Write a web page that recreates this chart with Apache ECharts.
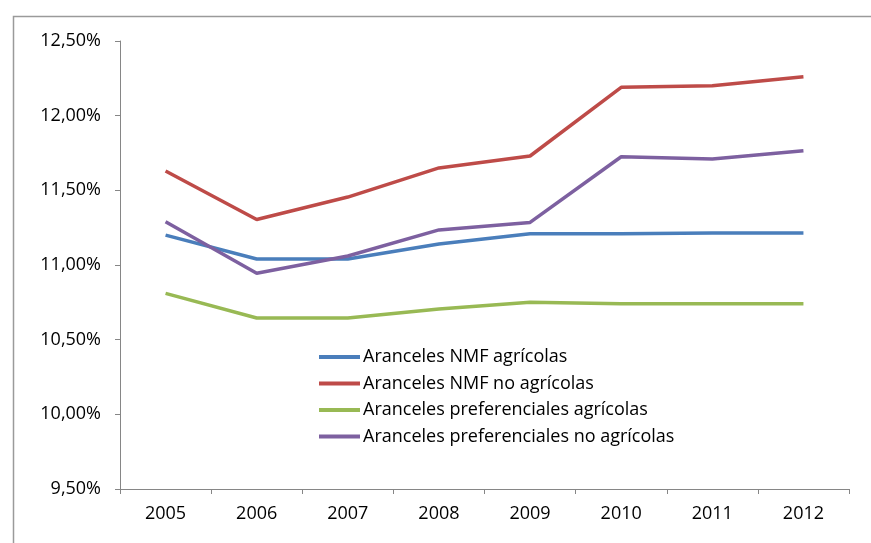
<!DOCTYPE html>
<html>
<head>
<meta charset="utf-8">
<script src="https://cdn.jsdelivr.net/npm/echarts@6/dist/echarts.min.js"></script>
<style>
  html, body { margin: 0; padding: 0; background: #fff; }
  #chart { width: 871px; height: 543px; }
</style>
</head>
<body>
<div id="chart"></div>
<script>
// Years on the category axis
const years = ['2005', '2006', '2007', '2008', '2009', '2010', '2011', '2012'];

// Average tariffs, in percent
const nmfAgricolas = [11.20, 11.04, 11.04, 11.14, 11.21, 11.21, 11.215, 11.215];
const nmfNoAgricolas = [11.63, 11.305, 11.455, 11.65, 11.73, 12.19, 12.20, 12.26];
const prefAgricolas = [10.81, 10.645, 10.645, 10.705, 10.75, 10.74, 10.74, 10.74];
const prefNoAgricolas = [11.29, 10.945, 11.06, 11.235, 11.285, 11.725, 11.71, 11.765];

const seriesNames = [
  'Aranceles NMF agrícolas',
  'Aranceles NMF no agrícolas',
  'Aranceles preferenciales agrícolas',
  'Aranceles preferenciales no agrícolas'
];

// Value axis bounds and step (percent)
const yMin = 9.5;
const yMax = 12.5;
const yStep = 0.5;

const colors = ['#4a7ebb', '#be4b48', '#98b954', '#7d60a0'];
const font = '"Open Sans", "Liberation Sans", sans-serif';

const chart = echarts.init(document.getElementById('chart'), null, { renderer: 'canvas' });

const dataSets = [nmfAgricolas, nmfNoAgricolas, prefAgricolas, prefNoAgricolas];

chart.setOption({
  animation: false,
  color: colors,
  graphic: [{
    type: 'rect',
    left: 11,
    top: 14,
    shape: { width: 900, height: 600 },
    style: { fill: 'none', stroke: '#9a9a9a', lineWidth: 1.5 },
    silent: true
  }],
  grid: { left: 120, right: 22, top: 41, bottom: 54 },
  legend: {
    orient: 'vertical',
    left: 314,
    top: 342,
    icon: 'rect',
    itemWidth: 41,
    itemHeight: 4,
    itemGap: 6.5,
    data: seriesNames,
    textStyle: { fontFamily: font, fontSize: 18, color: '#000', lineHeight: 20, padding: [0, 0, 0, -2] }
  },
  xAxis: {
    type: 'category',
    data: years,
    boundaryGap: true,
    axisLine: { lineStyle: { color: '#868686', width: 1 } },
    axisTick: { show: true, length: 5, lineStyle: { color: '#868686' } },
    axisLabel: { margin: 16, fontFamily: font, fontSize: 18, color: '#000' },
    splitLine: { show: false }
  },
  yAxis: {
    type: 'value',
    min: yMin,
    max: yMax,
    interval: yStep,
    axisLine: { show: true, lineStyle: { color: '#868686', width: 1 } },
    axisTick: { show: true, length: 5, lineStyle: { color: '#868686' } },
    axisLabel: {
      margin: 19,
      fontFamily: font,
      fontSize: 18,
      color: '#000',
      formatter: v => v.toFixed(2).replace('.', ',') + '%'
    },
    splitLine: { show: false }
  },
  series: dataSets.map((d, i) => ({
    name: seriesNames[i],
    type: 'line',
    data: d,
    showSymbol: false,
    symbol: 'none',
    lineStyle: { width: 3.5, color: colors[i] },
    itemStyle: { color: colors[i] }
  }))
});
</script>
</body>
</html>
